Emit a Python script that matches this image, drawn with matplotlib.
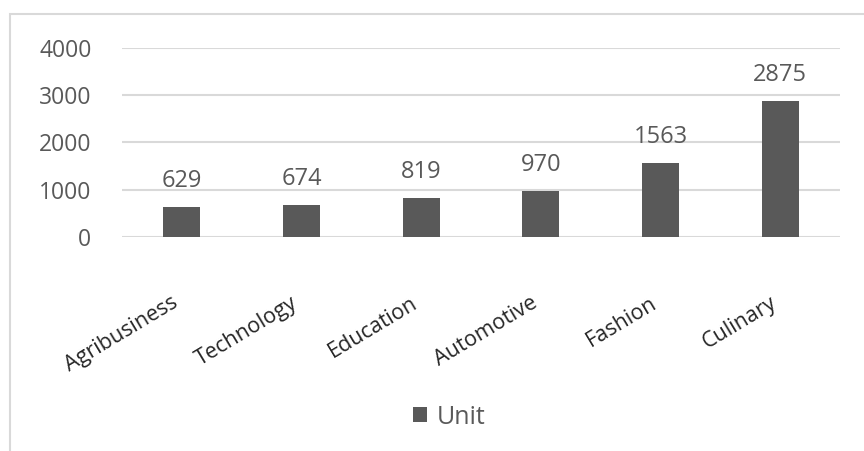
import matplotlib
matplotlib.use("Agg")
import matplotlib.pyplot as plt
from matplotlib.patches import Rectangle

# sector totals
sectors = ["Agribusiness", "Technology", "Education", "Automotive", "Fashion", "Culinary"]
units = [629, 674, 819, 970, 1563, 2875]
yticks = [0, 1000, 2000, 3000, 4000]

BAR_COLOR = "#595959"
GRID_COLOR = "#d9d9d9"
TEXT_GRAY = "#595959"

plt.rcParams["font.family"] = ["Open Sans", "DejaVu Sans"]

fig = plt.figure(figsize=(8.64, 4.51), dpi=100)
ax = fig.add_axes([0.1412, 0.4745, 0.831, 0.4191])

x = list(range(len(sectors)))
bars = ax.bar(x, units, width=0.31, color=BAR_COLOR, zorder=3, label="Unit")

for b, v in zip(bars, units):
    ax.annotate(str(v), (b.get_x() + b.get_width() / 2, v),
                xytext=(0, 10), textcoords="offset points",
                ha="center", va="bottom", fontsize=17, color=TEXT_GRAY,
                fontweight="medium")

ax.set_xlim(-0.5, len(sectors) - 0.5)
ax.set_ylim(0, 4000)
ax.set_yticks(yticks)
ax.set_yticklabels([str(t) for t in yticks], fontsize=16.5, color=TEXT_GRAY,
                   fontweight="medium")
ax.set_xticks(x)
ax.set_xticklabels(sectors, rotation=31, ha="right", fontsize=15.5, color="#262626")
ax.tick_params(axis="y", length=0, pad=22)
ax.tick_params(axis="x", length=0, pad=40)

ax.grid(axis="y", color=GRID_COLOR, lw=1.5, zorder=0)
for s in ax.spines.values():
    s.set_visible(False)

leg = fig.legend(handles=[bars], labels=["Unit"], loc="center",
                 bbox_to_anchor=(0.52, 0.075), frameon=False,
                 fontsize=18, handlelength=0.55, handleheight=0.55,
                 handletextpad=0.4)
for t in leg.get_texts():
    t.set_color(TEXT_GRAY)

# chart frame (runs off the right and bottom edges)
fig.patches.append(Rectangle((0.0116, -0.1), 1.2, 1.069, transform=fig.transFigure,
                             fill=False, edgecolor=GRID_COLOR, lw=1.5))

fig.savefig("out.png", dpi=100, facecolor="white")
